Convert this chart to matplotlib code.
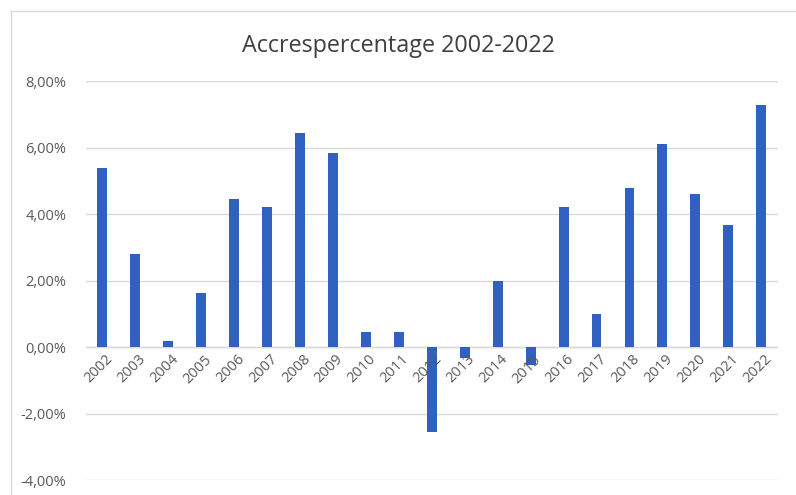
import matplotlib.pyplot as plt
from matplotlib.ticker import FuncFormatter
from matplotlib.lines import Line2D

# Yearly growth percentages
years = [str(y) for y in range(2002, 2023)]
values = [5.38, 2.80, 0.17, 1.61, 4.45, 4.21, 6.44, 5.84, 0.46, 0.46,
          -2.57, -0.34, 1.99, -0.54, 4.21, 0.98, 4.79, 6.11, 4.59, 3.68, 7.29]

plt.rcParams['font.family'] = ['Open Sans', 'DejaVu Sans']

fig = plt.figure(figsize=(7.96, 4.95), dpi=100)
ax = fig.add_axes([0.108, 0.0303, 0.869, 0.806])

x = range(len(years))
ax.bar(x, values, width=0.30, color='#3060C0', zorder=3)

ax.set_xlim(-0.5, len(years) - 0.5)
ax.set_ylim(-4, 8)
ax.set_yticks([-4, -2, 0, 2, 4, 6, 8])
ax.yaxis.set_major_formatter(FuncFormatter(lambda v, p: f'{v:.2f}%'.replace('.', ',')))
ax.grid(axis='y', color='#d9d9d9', lw=1, zorder=0)
ax.axhline(0, color='#d9d9d9', lw=1, zorder=1)
for s in ax.spines.values():
    s.set_visible(False)
ax.tick_params(axis='y', length=0, pad=14, labelsize=10.5, labelcolor='#595959')
ax.set_xticks([])

# rotated year labels hanging below the zero line
for i, yr in enumerate(years):
    ax.text(i + 0.08, -0.15, yr, rotation=45, ha='right', va='top',
            rotation_mode='anchor', fontsize=10.5, color='#595959')

fig.text(0.5, 0.908, 'Accrespercentage 2002-2022', ha='center', va='center',
         fontsize=16.8, color='#404040')

# chart frame
fig.add_artist(Line2D([0.0138, 0.0138], [0, 0.978], color='#d9d9d9', lw=1))
fig.add_artist(Line2D([0.0138, 1.0], [0.978, 0.978], color='#d9d9d9', lw=1))

fig.savefig('out.png', dpi=100)
